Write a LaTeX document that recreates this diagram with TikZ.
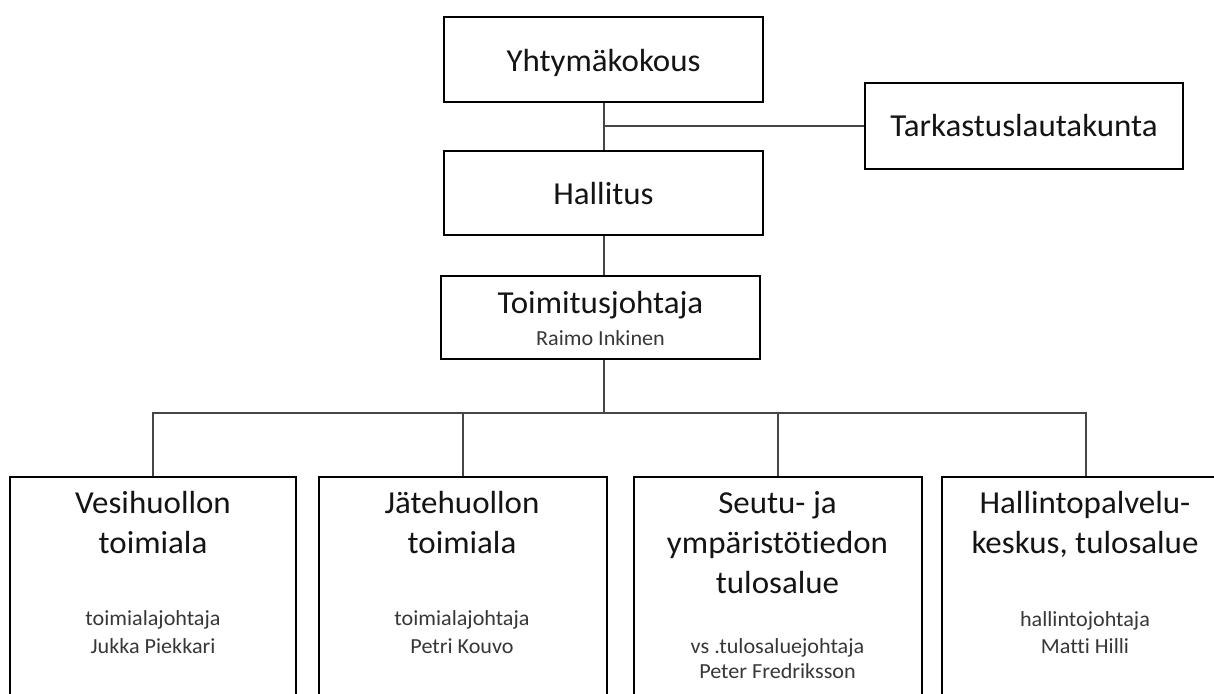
\documentclass[tikz,border=0pt]{standalone}
\usepackage{fontspec}
\setmainfont{Carlito}[FakeStretch=1.03, Ligatures=NoCommon]
\definecolor{txt}{RGB}{20,20,20}
\definecolor{subtxt}{RGB}{55,55,55}
\definecolor{conn}{RGB}{70,70,70}
\tikzset{
  box/.style={draw=black, line width=2.2pt, fill=white, inner sep=0pt},
  big/.style={inner sep=0pt, anchor=base, text=txt, font=\fontsize{32}{38}\selectfont},
  small/.style={inner sep=0pt, anchor=base, text=subtxt, font=\fontsize{21.5}{26}\selectfont},
  link/.style={draw=conn, line width=1.3pt}
}
\begin{document}
\begin{tikzpicture}[x=1pt,y=-1pt]
\useasboundingbox (0,0) rectangle (1214,693);
\clip (0,0) rectangle (1214,693);
\fill[white] (0,0) rectangle (1214,693);
% boxes
\node[box, minimum width=319pt, minimum height=85pt] (yk) at (603.5,59.5) {};
\node[box, minimum width=319pt, minimum height=84pt] (hal) at (603.5,193) {};
\node[box, minimum width=318pt, minimum height=86pt] (tark) at (1024,126) {};
\node[box, minimum width=319pt, minimum height=83pt] (tj) at (600.5,317.5) {};
\node[box, minimum width=286pt, minimum height=260pt] (b1) at (153,607) {};
\node[box, minimum width=288pt, minimum height=260pt] (b2) at (463,607) {};
\node[box, minimum width=288pt, minimum height=260pt] (b3) at (778,607) {};
\node[box, minimum width=288pt, minimum height=260pt] (b4) at (1086,607) {};
% connectors
\coordinate (jn) at (604,126);
\coordinate (bus) at (604,413);
\draw[link] (yk.south -| jn) -- (hal.north -| jn);
\draw[link] (jn) -- (tark.west);
\draw[link] (hal.south -| jn) -- (tj.north -| jn);
\draw[link] (tj.south -| bus) -- (bus);
\draw[link] (b1.north) |- (bus) -| (b4.north);
\draw[link] (b2.north) -- (b2.north |- bus);
\draw[link] (b3.north) -- (b3.north |- bus);
% texts
\node[big] (tyk) at (603.5,71) {Yhtymäkokous};
\node[big] (thal) at (603.5,204) {Hallitus};
\node[big] (ttark) at (1024,136) {Tarkastuslautakunta};
\node[big] (ttj) at (600.5,313) {Toimitusjohtaja};
\node[small] (ttj2) at (600.5,345) {Raimo Inkinen};
\node[big] (t1a) at (153,513) {Vesihuollon};
\node[big] (t1b) at (153,553) {toimiala};
\node[small] (t1c) at (153,625) {toimialajohtaja};
\node[small] (t1d) at (153,653) {Jukka Piekkari};
\node[big] (t2a) at (462,513) {Jätehuollon};
\node[big] (t2b) at (462,553) {toimiala};
\node[small] (t2c) at (462,625) {toimialajohtaja};
\node[small] (t2d) at (462,653) {Petri Kouvo};
\node[big] (t3a) at (777.5,513) {Seutu- ja};
\node[big] (t3b) at (777.5,553) {ympäristötiedon};
\node[big] (t3c) at (777.5,593) {tulosalue};
\node[small] (t3d) at (777.5,653) {vs .tulosaluejohtaja};
\node[small] (t3e) at (777.5,678) {Peter Fredriksson};
\node[big] (t4a) at (1085,513) {Hallintopalvelu-};
\node[big] (t4b) at (1085,553) {keskus, tulosalue};
\node[small] (t4c) at (1085,626) {hallintojohtaja};
\node[small] (t4d) at (1085,653) {Matti Hilli};
\end{tikzpicture}
\end{document}
